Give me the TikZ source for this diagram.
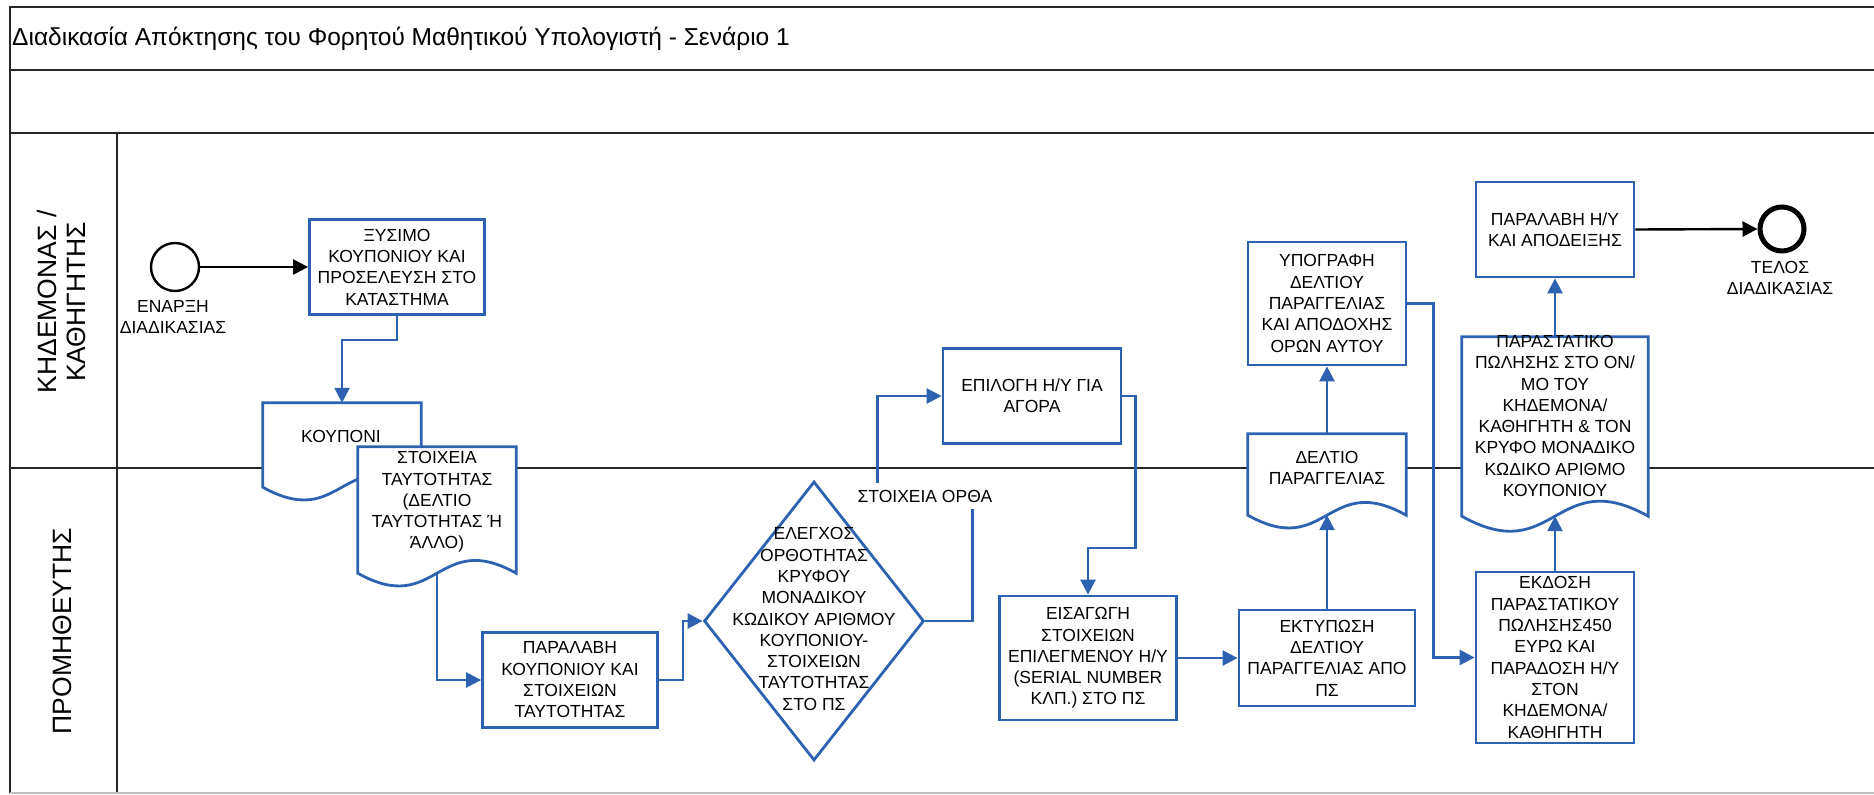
\documentclass[tikz,border=0pt]{standalone}
\usepackage{fontspec}
\setmainfont{Liberation Sans}
\usepackage{tikz}
\usetikzlibrary{
    arrows.meta,
    shapes.geometric
}
\definecolor{flowblue}{RGB}{46,98,176}
\newcommand{\boxfont}{\fontsize{17.5}{21.3}\selectfont}
% document shape: name, centre, width, height
\newcommand{\docshape}[4]{%
    \node[docnode, minimum width=#3, minimum height=#4] (#1) at (#2) {};
    \draw[docline] (#1.south west) -- (#1.north west) -- (#1.north east) -- (#1.south east)
        .. controls +(-#3/2, -0.28*#3) and +(#3/2, 0.28*#3) .. (#1.south west) -- cycle;
}

\begin{document}
\begin{tikzpicture}[x=1pt, y=-1pt, >={Triangle[length=15pt,width=15pt]}]
    \tikzstyle{lane}=[line width=2.4pt, draw=black!85]
    \tikzstyle{box}=[draw=flowblue, line width=2.8pt, fill=white, align=center, inner sep=0pt, font=\boxfont]
    \tikzstyle{docnode}=[inner sep=0pt]
    \tikzstyle{docline}=[draw=flowblue, line width=2.8pt, fill=white]
    \tikzstyle{txt}=[align=center, inner sep=0pt, font=\boxfont]
    \tikzstyle{flow}=[->, draw=flowblue, line width=2.6pt]
    \tikzstyle{event}=[circle, draw=black, fill=white, inner sep=0pt]
    \useasboundingbox (0,0) rectangle (1874,795);

    % pool and lanes
    \draw[lane] (1874,7) -- (10,7) -- (10,793);
    \draw[lane] (10,70) -- (1874,70);
    \draw[lane] (10,133) -- (1874,133);
    \draw[lane] (10,468) -- (1874,468);
    \draw[lane] (117,133) -- (117,793);
    \draw[black!25, line width=1.5pt] (10,793) -- (1874,793);

    \node[anchor=west, inner sep=0pt, font=\fontsize{24.5}{28}\selectfont] (title) at (12,39) {Διαδικασία Απόκτησης του Φορητού Μαθητικού Υπολογιστή - Σενάριο 1};
    \node[rotate=90, align=center, font=\fontsize{26.5}{29}\selectfont] (lanea) at (62,302) {ΚΗΔΕΜΟΝΑΣ /\\ΚΑΘΗΓΗΤΗΣ};
    \node[rotate=90, font=\fontsize{26.5}{29}\selectfont] (laneb) at (62,631) {ΠΡΟΜΗΘΕΥΤΗΣ};

    % events
    \node[event, minimum size=48, line width=2.4pt] (start) at (175,267) {};
    \node[txt] (starttext) at (173,317) {ΕΝΑΡΞΗ\\ΔΙΑΔΙΚΑΣΙΑΣ};
    \node[event, minimum size=44, line width=5pt] (end) at (1782,229) {};
    \node[txt] (endtext) at (1780,278) {ΤΕΛΟΣ\\ΔΙΑΔΙΚΑΣΙΑΣ};

    % documents
    \docshape{coupon}{342,445}{158}{84}
    \node[txt] (coupontext) at (341,436) {ΚΟΥΠΟΝΙ};
    \docshape{idcard}{437,510}{158}{126}
    \node[txt] (idcardtext) at (437,502) {ΣΤΟΙΧΕΙΑ\\ΤΑΥΤΟΤΗΤΑΣ\\(ΔΕΛΤΙΟ\\ΤΑΥΤΟΤΗΤΑΣ Ή\\ΆΛΛΟ)};
    \docshape{order}{1327,474.5}{158}{81}
    \node[txt] (ordertext) at (1327,468) {ΔΕΛΤΙΟ\\ΠΑΡΑΓΓΕΛΙΑΣ};
    \docshape{invoice}{1555,426.5}{186}{179}
    \node[txt] (invoicetext) at (1555,416) {ΠΑΡΑΣΤΑΤΙΚΟ\\ΠΩΛΗΣΗΣ ΣΤΟ ΟΝ/\\ΜΟ ΤΟΥ\\ΚΗΔΕΜΟΝΑ/\\ΚΑΘΗΓΗΤΗ \& ΤΟΝ\\ΚΡΥΦΟ ΜΟΝΑΔΙΚΟ\\ΚΩΔΙΚΟ ΑΡΙΘΜΟ\\ΚΟΥΠΟΝΙΟΥ};

    % tasks
    \node[box, minimum width=175, minimum height=95] (scratch) at (397,267) {ΞΥΣΙΜΟ\\ΚΟΥΠΟΝΙΟΥ ΚΑΙ\\ΠΡΟΣΕΛΕΥΣΗ ΣΤΟ\\ΚΑΤΑΣΤΗΜΑ};
    \node[box, minimum width=175, minimum height=95] (receive) at (570,680) {ΠΑΡΑΛΑΒΗ\\ΚΟΥΠΟΝΙΟΥ ΚΑΙ\\ΣΤΟΙΧΕΙΩΝ\\ΤΑΥΤΟΤΗΤΑΣ};
    \node[diamond, draw=flowblue, line width=2.8pt, fill=white, inner sep=0pt, minimum width=220, minimum height=279] (check) at (814,621) {};
    \node[txt] (checktext) at (814,619) {ΕΛΕΓΧΟΣ\\ΟΡΘΟΤΗΤΑΣ\\ΚΡΥΦΟΥ\\ΜΟΝΑΔΙΚΟΥ\\ΚΩΔΙΚΟΥ ΑΡΙΘΜΟΥ\\ΚΟΥΠΟΝΙΟΥ-\\ΣΤΟΙΧΕΙΩΝ\\ΤΑΥΤΟΤΗΤΑΣ\\ΣΤΟ ΠΣ};
    \node[box, minimum width=178, minimum height=95] (choose) at (1032,396) {ΕΠΙΛΟΓΗ Η/Υ ΓΙΑ\\ΑΓΟΡΑ};
    \node[box, minimum width=177, minimum height=124] (enter) at (1088,658) {ΕΙΣΑΓΩΓΗ\\ΣΤΟΙΧΕΙΩΝ\\ΕΠΙΛΕΓΜΕΝΟΥ Η/Υ\\(SERIAL NUMBER\\ΚΛΠ.) ΣΤΟ ΠΣ};
    \node[box, minimum width=176, minimum height=96] (print) at (1327,658) {ΕΚΤΥΠΩΣΗ\\ΔΕΛΤΙΟΥ\\ΠΑΡΑΓΓΕΛΙΑΣ ΑΠΟ\\ΠΣ};
    \node[box, minimum width=158, minimum height=123] (sign) at (1327,303.5) {ΥΠΟΓΡΑΦΗ\\ΔΕΛΤΙΟΥ\\ΠΑΡΑΓΓΕΛΙΑΣ\\ΚΑΙ ΑΠΟΔΟΧΗΣ\\ΟΡΩΝ ΑΥΤΟΥ};
    \node[box, minimum width=158, minimum height=171] (issue) at (1555,657.5) {ΕΚΔΟΣΗ\\ΠΑΡΑΣΤΑΤΙΚΟΥ\\ΠΩΛΗΣΗΣ450\\ΕΥΡΩ ΚΑΙ\\ΠΑΡΑΔΟΣΗ Η/Υ\\ΣΤΟΝ\\ΚΗΔΕΜΟΝΑ/\\ΚΑΘΗΓΗΤΗ};
    \node[box, minimum width=158, minimum height=95] (pickup) at (1555,229.5) {ΠΑΡΑΛΑΒΗ Η/Υ\\ΚΑΙ ΑΠΟΔΕΙΞΗΣ};

    % flows
    \draw[->, line width=2.4pt] (start.east) -- (scratch.west);
    \draw[flow] (scratch.south) -- ++(0,24) -| (coupon.north);
    \draw[flow] (idcard.south) |- (receive.west);
    \draw[flow] (receive.east) -- ++(24,0) |- (check.west);
    \draw[flow] (check.east) -- ++(47,0) -- ++(0,-125) -- node[txt, fill=white, minimum height=26, inner xsep=2pt] (ok) {ΣΤΟΙΧΕΙΑ ΟΡΘΑ} ++(-95,0) |- (choose.west);
    \draw[flow] (choose.east) -- ++(13,0) -- ++(0,152) -| (enter.north);
    \draw[flow] (enter.east) -- (print.west);
    \draw[flow] (print.north) -- (order.south);
    \draw[flow] (order.north) -- (sign.south);
    \draw[flow] (sign.east) -- ++(26,0) |- (issue.west);
    \draw[flow] (issue.north) -- (invoice.south);
    \draw[flow] (invoice.north) -- (pickup.south);
    \draw[->, line width=2.4pt] (pickup.east) -- (end.west);
\end{tikzpicture}
\end{document}
